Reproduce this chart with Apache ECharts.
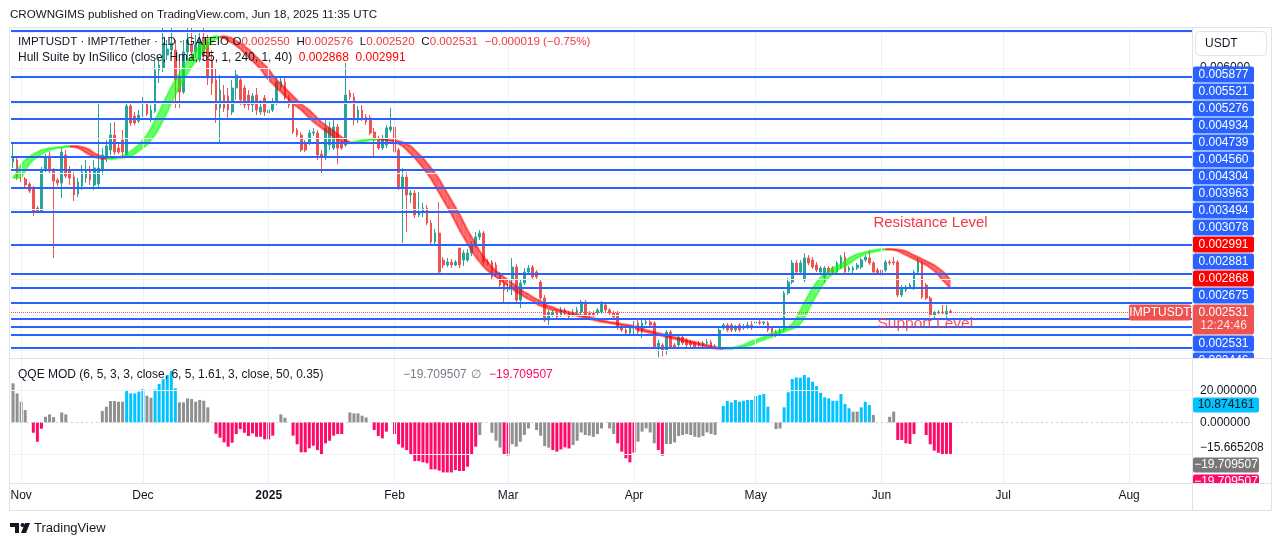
<!DOCTYPE html>
<html>
<head>
<meta charset="utf-8">
<script src="https://cdn.jsdelivr.net/npm/echarts@6.0.0/dist/echarts.min.js"></script>
<style>
html,body{margin:0;padding:0;background:#fff;}
#chart{width:1281px;height:546px;}
</style>
</head>
<body>
<div id="chart"></div>
<script>
var FONT = "'Liberation Sans', Arial, sans-serif";
var TXT = '#131722';

// daily candles, 2024-10-30 .. 2025-06-18
var opens = [0.004666,0.004694,0.004467,0.004425,0.004354,0.004297,0.004013,0.003971,0.004552,0.004751,
 0.004538,0.004411,0.004368,0.004765,0.004552,0.004453,0.004212,0.004325,0.004439,0.004538,
 0.004340,0.004354,0.004552,0.004723,0.004836,0.005049,0.004864,0.004978,0.004765,0.005460,
 0.005318,0.005247,0.005332,0.005488,0.005290,0.005389,0.005970,0.005999,0.006183,0.006254,
 0.006254,0.005857,0.005658,0.006226,0.006325,0.006226,0.006112,0.006424,0.006367,0.006112,
 0.005829,0.005432,0.005616,0.005602,0.005375,0.005715,0.005829,0.005715,0.005616,0.005474,
 0.005616,0.005375,0.005573,0.005361,0.005403,0.005503,0.005729,0.005800,0.005573,0.005474,
 0.005120,0.005049,0.004935,0.004949,0.005077,0.005077,0.004779,0.004737,0.004907,0.004864,
 0.005162,0.004935,0.004907,0.005644,0.005588,0.005261,0.005403,0.005304,0.005290,0.005091,
 0.004978,0.004864,0.004907,0.005120,0.005162,0.004836,0.004311,0.004453,0.004198,0.004226,
 0.003914,0.003957,0.004013,0.003801,0.003531,0.003659,0.003276,0.003205,0.003248,0.003205,
 0.003446,0.003276,0.003276,0.003375,0.003489,0.003602,0.003659,0.003248,0.003248,0.003205,
 0.003064,0.002950,0.002851,0.002993,0.003177,0.002709,0.002950,0.003106,0.003177,0.003106,
 0.002964,0.002737,0.002425,0.002496,0.002539,0.002496,0.002567,0.002525,0.002496,0.002539,
 0.002539,0.002681,0.002525,0.002525,0.002525,0.002539,0.002638,0.002567,0.002525,0.002525,
 0.002326,0.002284,0.002241,0.002241,0.002383,0.002255,0.002383,0.002397,0.002383,0.002043,
 0.002071,0.002000,0.002255,0.002071,0.002071,0.002184,0.002142,0.002113,0.002099,0.002099,
 0.002071,0.002099,0.002113,0.002057,0.002043,0.002312,0.002355,0.002355,0.002284,0.002355,
 0.002312,0.002326,0.002355,0.002383,0.002397,0.002383,0.002383,0.002312,0.002255,0.002241,
 0.002284,0.002808,0.002964,0.003234,0.003106,0.002993,0.003305,0.003276,0.003205,0.003106,
 0.003035,0.003163,0.003163,0.003106,0.003177,0.003319,0.003134,0.003134,0.003163,0.003177,
 0.003276,0.003305,0.003234,0.003134,0.003134,0.003134,0.003248,0.003248,0.003248,0.002780,
 0.002851,0.002893,0.002879,0.003106,0.003234,0.002922,0.002737,0.002496,0.002525,0.002539,
 0.002511,0.002550];

var closes = [0.004723,0.004453,0.004411,0.004340,0.004255,0.003971,0.003971,0.004552,0.004723,0.004538,
 0.004396,0.004368,0.004808,0.004467,0.004439,0.004198,0.004382,0.004524,0.004552,0.004411,
 0.004581,0.004581,0.004765,0.004893,0.005049,0.004808,0.004808,0.004808,0.005460,0.005219,
 0.005219,0.005332,0.005488,0.005347,0.005403,0.005970,0.006041,0.006353,0.006268,0.006353,
 0.005829,0.005658,0.006226,0.006396,0.006226,0.006325,0.006396,0.006183,0.005857,0.005786,
 0.005403,0.005687,0.005432,0.005403,0.005715,0.005900,0.005545,0.005474,0.005474,0.005602,
 0.005403,0.005446,0.005375,0.005403,0.005517,0.005800,0.005814,0.005573,0.005474,0.005091,
 0.005049,0.004836,0.004836,0.005077,0.005091,0.004765,0.004751,0.005148,0.005148,0.005162,
 0.004864,0.004864,0.005616,0.005588,0.005261,0.005403,0.005290,0.005233,0.005077,0.004978,
 0.004864,0.005006,0.005148,0.005162,0.004808,0.004311,0.004453,0.004198,0.004226,0.003914,
 0.003957,0.004013,0.003801,0.003531,0.003659,0.003106,0.003205,0.003248,0.003205,0.003248,
 0.003205,0.003375,0.003375,0.003489,0.003602,0.003659,0.003248,0.003234,0.003035,0.003064,
 0.002922,0.002851,0.002893,0.003177,0.002709,0.002950,0.003106,0.003163,0.003035,0.003035,
 0.002737,0.002425,0.002525,0.002525,0.002468,0.002567,0.002525,0.002468,0.002539,0.002567,
 0.002681,0.002496,0.002496,0.002496,0.002567,0.002666,0.002567,0.002525,0.002468,0.002326,
 0.002284,0.002241,0.002312,0.002355,0.002255,0.002383,0.002397,0.002355,0.002043,0.002099,
 0.002000,0.002255,0.002043,0.002043,0.002184,0.002099,0.002071,0.002071,0.002043,0.002071,
 0.002099,0.002113,0.002043,0.002043,0.002284,0.002355,0.002284,0.002284,0.002326,0.002284,
 0.002326,0.002355,0.002312,0.002397,0.002383,0.002397,0.002284,0.002255,0.002213,0.002284,
 0.002808,0.002964,0.003234,0.003106,0.003234,0.003305,0.003234,0.003177,0.003134,0.003163,
 0.003163,0.003106,0.003106,0.003234,0.003319,0.003106,0.003163,0.003163,0.003205,0.003276,
 0.003319,0.003234,0.003106,0.003092,0.003064,0.003248,0.003234,0.003234,0.002780,0.002879,
 0.002893,0.002922,0.003106,0.003248,0.002752,0.002737,0.002496,0.002525,0.002539,0.002525,
 0.002550,0.002531];

var lows = [0.004581,0.004411,0.004382,0.004311,0.004226,0.003900,0.003957,0.003957,0.004524,0.004496,
 0.003305,0.004325,0.004155,0.004439,0.004340,0.004113,0.004169,0.004269,0.004368,0.004340,
 0.004269,0.004297,0.004481,0.004666,0.004765,0.004765,0.004779,0.004751,0.004751,0.005176,
 0.005191,0.005219,0.005304,0.005318,0.005233,0.005361,0.005786,0.005942,0.006112,0.006197,
 0.005432,0.005432,0.005630,0.006112,0.006112,0.006141,0.006084,0.006112,0.005758,0.005616,
 0.005219,0.004935,0.005375,0.005290,0.005332,0.005545,0.005474,0.005432,0.005403,0.005375,
 0.005332,0.005332,0.005318,0.005332,0.005375,0.005474,0.005687,0.005545,0.005432,0.005063,
 0.005020,0.004808,0.004808,0.004907,0.005035,0.004694,0.004510,0.004694,0.004836,0.004836,
 0.004637,0.004836,0.004879,0.005545,0.005191,0.005219,0.005247,0.005191,0.005049,0.004737,
 0.004836,0.004836,0.004864,0.005091,0.004765,0.004269,0.003517,0.003673,0.004084,0.003872,
 0.003886,0.003886,0.003772,0.003489,0.003489,0.003064,0.003163,0.003177,0.003163,0.003191,
 0.003163,0.003191,0.003248,0.003333,0.003446,0.003560,0.003205,0.003191,0.002993,0.003035,
 0.002879,0.002666,0.002822,0.002780,0.002666,0.002596,0.002922,0.003078,0.003007,0.003007,
 0.002709,0.002397,0.002355,0.002468,0.002440,0.002468,0.002496,0.002454,0.002468,0.002511,
 0.002511,0.002468,0.002468,0.002468,0.002496,0.002511,0.002539,0.002496,0.002425,0.002284,
 0.002255,0.002213,0.002213,0.002213,0.002227,0.002170,0.002355,0.002326,0.002014,0.001895,
 0.001915,0.001929,0.002014,0.002014,0.002028,0.002071,0.002043,0.002043,0.002028,0.002043,
 0.002043,0.002071,0.002028,0.002028,0.002028,0.002284,0.002255,0.002255,0.002255,0.002255,
 0.002284,0.002298,0.002284,0.002355,0.002355,0.002355,0.002255,0.002227,0.002184,0.002213,
 0.002255,0.002780,0.002936,0.003078,0.003078,0.002964,0.003205,0.003149,0.003106,0.003078,
 0.002950,0.003078,0.003078,0.003078,0.003149,0.003078,0.003106,0.003064,0.003134,0.003149,
 0.003248,0.003205,0.003078,0.003064,0.003035,0.003106,0.003205,0.003205,0.002752,0.002752,
 0.002822,0.002865,0.002851,0.003078,0.002723,0.002709,0.002468,0.002454,0.002511,0.002511,
 0.002454,0.002520];

var highs = [0.004935,0.004737,0.004496,0.004453,0.004382,0.004325,0.004042,0.004595,0.004779,0.004822,
 0.004581,0.004439,0.004864,0.004836,0.004609,0.004524,0.004439,0.004623,0.004694,0.004609,
 0.004694,0.005503,0.004864,0.004978,0.005219,0.005233,0.004935,0.005120,0.005488,0.005488,
 0.005375,0.005403,0.005588,0.005531,0.005474,0.006098,0.006141,0.006566,0.006396,0.006566,
 0.006396,0.006112,0.006396,0.006566,0.006566,0.006467,0.006538,0.006566,0.006467,0.006254,
 0.005999,0.005900,0.005758,0.005715,0.005829,0.005970,0.005857,0.005758,0.005687,0.005644,
 0.005715,0.005545,0.005616,0.005488,0.005573,0.005857,0.005885,0.005857,0.005616,0.005517,
 0.005148,0.005091,0.004978,0.005120,0.005148,0.005120,0.004836,0.005261,0.005233,0.005261,
 0.005205,0.004978,0.006070,0.005687,0.005644,0.005460,0.005474,0.005347,0.005332,0.005148,
 0.005035,0.005049,0.005191,0.005432,0.005205,0.004864,0.004581,0.004524,0.004269,0.004269,
 0.004240,0.004084,0.004056,0.003843,0.003716,0.004099,0.003319,0.003305,0.003290,0.003276,
 0.003446,0.003418,0.003432,0.003546,0.003673,0.003702,0.003687,0.003290,0.003276,0.003248,
 0.003106,0.002993,0.002936,0.003305,0.003219,0.002993,0.003163,0.003205,0.003205,0.003134,
 0.003007,0.002780,0.002567,0.002567,0.002567,0.002610,0.002596,0.002553,0.002581,0.002610,
 0.002709,0.002709,0.002553,0.002553,0.002596,0.002695,0.002666,0.002596,0.002553,0.002553,
 0.002355,0.002312,0.002340,0.002411,0.002425,0.002425,0.002425,0.002425,0.002411,0.002142,
 0.002099,0.002284,0.002284,0.002099,0.002213,0.002213,0.002170,0.002142,0.002128,0.002128,
 0.002128,0.002156,0.002142,0.002085,0.002312,0.002383,0.002383,0.002383,0.002355,0.002383,
 0.002369,0.002397,0.002411,0.002425,0.002425,0.002411,0.002411,0.002340,0.002284,0.002312,
 0.002837,0.003021,0.003276,0.003276,0.003276,0.003375,0.003347,0.003319,0.003248,0.003191,
 0.003191,0.003191,0.003191,0.003262,0.003347,0.003390,0.003191,0.003191,0.003234,0.003305,
 0.003347,0.003418,0.003262,0.003163,0.003163,0.003276,0.003276,0.003319,0.003276,0.002922,
 0.002922,0.002950,0.003134,0.003305,0.003262,0.002950,0.002766,0.002553,0.002567,0.002638,
 0.002638,0.002576];

// Hull Suite main line (HULL); the band is HULL vs HULL two bars back
var hull = [0.004439,0.004538,0.004637,0.004694,0.004737,0.004779,0.004808,0.004836,0.004850,0.004864,
 0.004864,0.004879,0.004879,0.004893,0.004893,0.004879,0.004864,0.004836,0.004793,0.004765,
 0.004737,0.004723,0.004708,0.004708,0.004723,0.004723,0.004737,0.004751,0.004779,0.004822,
 0.004864,0.004907,0.004978,0.005049,0.005148,0.005261,0.005375,0.005503,0.005616,0.005729,
 0.005829,0.005928,0.006013,0.006098,0.006169,0.006240,0.006311,0.006367,0.006410,0.006438,
 0.006453,0.006438,0.006424,0.006382,0.006353,0.006311,0.006268,0.006211,0.006155,0.006098,
 0.006041,0.005985,0.005900,0.005829,0.005772,0.005715,0.005658,0.005602,0.005545,0.005488,
 0.005446,0.005403,0.005347,0.005290,0.005233,0.005191,0.005148,0.005105,0.005063,0.005020,
 0.004978,0.004949,0.004928,0.004935,0.004949,0.004964,0.004978,0.004978,0.004992,0.004992,
 0.004992,0.004978,0.004978,0.004964,0.004949,0.004921,0.004893,0.004836,0.004779,0.004723,
 0.004652,0.004581,0.004510,0.004425,0.004325,0.004226,0.004127,0.004028,0.003928,0.003815,
 0.003702,0.003602,0.003503,0.003404,0.003319,0.003248,0.003177,0.003120,0.003078,0.003035,
 0.002993,0.002950,0.002908,0.002865,0.002822,0.002794,0.002752,0.002723,0.002695,0.002652,
 0.002624,0.002610,0.002581,0.002567,0.002553,0.002539,0.002525,0.002511,0.002496,0.002482,
 0.002468,0.002454,0.002440,0.002425,0.002411,0.002397,0.002390,0.002383,0.002369,0.002362,
 0.002355,0.002340,0.002326,0.002312,0.002284,0.002269,0.002255,0.002241,0.002227,0.002213,
 0.002199,0.002184,0.002170,0.002156,0.002142,0.002128,0.002113,0.002099,0.002085,0.002071,
 0.002057,0.002043,0.002028,0.002021,0.002014,0.002014,0.002028,0.002028,0.002043,0.002057,
 0.002071,0.002099,0.002128,0.002142,0.002170,0.002184,0.002213,0.002241,0.002255,0.002284,
 0.002298,0.002326,0.002369,0.002454,0.002567,0.002681,0.002780,0.002879,0.002964,0.003035,
 0.003078,0.003120,0.003163,0.003191,0.003219,0.003262,0.003305,0.003333,0.003361,0.003375,
 0.003390,0.003404,0.003418,0.003425,0.003432,0.003428,0.003425,0.003418,0.003404,0.003375,
 0.003347,0.003319,0.003290,0.003262,0.003234,0.003205,0.003163,0.003120,0.003064,0.002991,
 0.002936,0.002868];

// QQE MOD histogram and its colour state (u = above, d = below, n = neutral)
var qqeHist = [24.4,18.1,12.9,7.7,0,-6.5,-12.1,-4.0,3.5,5.0,
 3.3,0,6.2,5.0,0,0,0,0,0,0,
 0,0,7.1,9.8,13.3,13.3,12.9,12.9,19.8,18.1,
 18.1,19.2,20.8,16.7,15.4,20.5,24.0,27.0,29.6,32.1,
 21.3,12.5,12.5,15.0,14.6,12.9,14.0,13.5,9.4,0,
 -7.1,-9.6,-12.5,-15.2,-12.7,-7.3,-4.2,-6.5,-8.5,-6.9,
 -9.0,-9.0,-10.6,-10.6,-8.3,0,5.0,2.9,0,-8.3,
 -13.7,-18.7,-18.7,-16.2,-14.6,-17.3,-20.0,-13.1,-11.5,-8.3,
 -7.3,-7.3,0,6.2,5.6,5.6,4.2,3.1,0,-4.8,
 -8.5,-10.0,-5.8,0,-7.3,-13.7,-15.8,-17.3,-19.8,-24.2,
 -24.2,-25.0,-25.6,-29.4,-29.4,-30.2,-31.3,-31.3,-31.3,-29.8,
 -30.4,-30.4,-27.7,-20.4,-15.2,-7.9,0,0,-6.5,-11.5,
 -15.8,-19.8,-20.8,-13.7,-15.2,-12.1,-7.9,-3.8,0,-4.8,
 -8.3,-14.8,-15.8,-17.3,-18.3,-16.9,-15.6,-16.3,-14.2,-11.5,
 -6.3,-7.9,-8.3,-9.0,-7.3,-3.8,0,-3.8,-7.3,-13.1,
 -18.3,-22.5,-25.0,-19.0,-12.1,-5.8,-3.8,-6.3,-13.1,-17.3,
 -20.8,-13.5,-13.5,-12.5,-8.5,-7.9,-7.3,-7.9,-9.0,-9.4,
 -8.5,-6.3,-7.3,-7.9,0,10.2,13.3,12.5,14.0,12.9,
 13.5,14.0,14.0,16.5,17.1,17.7,9.8,0,-4.2,-3.8,
 9.4,18.8,27.1,28.1,27.9,29.6,28.1,25.4,22.7,18.5,
 15.6,15.0,13.5,13.5,17.7,11.5,8.8,6.7,6.7,9.4,
 12.9,10.8,4.6,0,0,0,3.5,6.7,-11.0,-11.0,
 -13.1,-13.5,-7.3,0,0,-7.9,-13.7,-17.7,-19.0,-20.0,
 -20.0,-19.709507];
var qqeState = ('nnnnn' + 'ddd' + 'nnnnnn' + 'nnnnnnnn' + 'nnnnnn' + 'uuuuu' + 'nn' + 'uuuuuu' +
 'nnnnnnnnn' + 'ddddddddddddddd' + 'nnnn' + 'ddddddddddddd' + 'nnnnnnn' + 'dddd' + 'n' +
 'ddddddddddddddddddddd' + 'nnnnnn' + 'dd' + 'nnnnnnnnnn' + 'ddddd' + 'nnnnnnnnnnn' + 'ddddd' +
 'nnnnn' + 'dd' + 'nnnnnnnnnnnnnn' + 'uuuuuuuuuuuu' + 'nnn' + 'uuuuuuuuuuuuuuuuu' + 'nn' + 'uuu' +
 'nnnnnn' + 'ddddd' + 'nn' + 'ddddddd').split('');
var qqeTagCyan = 10.874161;
var qqeAxisValues = [20, 0, -15.665208];

// horizontal levels drawn on the chart and their axis tags
var lineLevels = [0.006524,0.005877,0.005521,0.005276,0.004934,0.004739,0.004560,0.004304,0.003963,
 0.003494,0.003078,0.002881,0.002675,0.002446,0.002326,0.002213,0.002028];
var levelTags = [0.005877,0.005521,0.005276,0.004934,0.004739,0.004560,0.004304,0.003963,0.003494,
 0.003078,0.002881,0.002675,0.002531,0.002446,0.002326,0.002213,0.002028];
var priceGrid = [0.002,0.0025,0.003,0.0035,0.004,0.0045,0.005,0.0055,0.006,0.0065];

var monthTicks = ['2024-11-01','2024-12-01','2025-01-01','2025-02-01','2025-03-01','2025-04-01',
 '2025-05-01','2025-06-01','2025-07-01','2025-08-01'];
var monthLabels = ['Nov','Dec','2025','Feb','Mar','Apr','May','Jun','Jul','Aug'];

var dates = [];
var t0 = Date.UTC(2024, 9, 30);
for (var k = 0; k < 291; k++) {
  dates.push(new Date(t0 + k * 864e5).toISOString().slice(0, 10));
}

var candleData = [];
for (var i = 0; i < opens.length; i++) {
  candleData.push([opens[i], closes[i], lows[i], highs[i]]);
}
var stateColor = {u: '#00c3ff', d: '#ff0a68', n: '#909090'};
var histData = qqeHist.map(function(v, i){
  return {value: v, itemStyle: {color: stateColor[qqeState[i]]}};
});

var last = closes.length - 1;
function minus(s){ return s.replace(/-/g, '\u2212'); }

function lineMarks(list, color, width, type, z, xi, yi){
  return {type: 'line', xAxisIndex: xi, yAxisIndex: yi, data: [], z: z, silent: true,
    markLine: {silent: true, symbol: ['none', 'none'], animation: false, precision: 8,
      label: {show: false}, lineStyle: {color: color, width: width, type: type}, data: list}};
}

var chart = echarts.init(document.getElementById('chart'));

var option = {
  animation: false,
  backgroundColor: '#ffffff',
  grid: [
    {left: 11, top: 28, width: 1181, height: 330},
    {left: 11, top: 359, width: 1181, height: 124}
  ],
  xAxis: [
    {gridIndex: 0, type: 'category', data: dates, boundaryGap: true,
     axisLine: {show: false}, axisTick: {show: false}, axisLabel: {show: false}, splitLine: {show: false}},
    {gridIndex: 1, type: 'category', data: dates, boundaryGap: true,
     axisLine: {show: false}, axisTick: {show: false}, splitLine: {show: false},
     axisLabel: {
       interval: function(idx, val){ return monthTicks.indexOf(val) >= 0; },
       formatter: function(val){
         var m = monthTicks.indexOf(val);
         return m === 2 ? '{b|' + monthLabels[m] + '}' : monthLabels[m];
       },
       color: TXT, fontSize: 12, fontFamily: FONT, margin: 7,
       rich: {b: {fontWeight: 'bold', fontSize: 12, fontFamily: FONT, color: TXT}}
     }}
  ],
  yAxis: [
    {gridIndex: 0, type: 'value', position: 'right', min: 0.001887, max: 0.006566,
     splitLine: {show: false}, axisLine: {show: false}, axisTick: {show: false},
     axisLabel: {customValues: [0.006], formatter: function(v){ return v.toFixed(6); },
       color: TXT, fontSize: 12, fontFamily: FONT, margin: 8}},
    {gridIndex: 1, type: 'value', position: 'right', min: -37.9, max: 39.6,
     splitLine: {show: false}, axisLine: {show: false}, axisTick: {show: false},
     axisLabel: {customValues: qqeAxisValues, formatter: function(v){ return minus(v.toFixed(6)); },
       color: TXT, fontSize: 12, fontFamily: FONT, margin: 8}}
  ],
  series: [
    lineMarks(monthTicks.map(function(d){ return {xAxis: d}; })
      .concat(priceGrid.map(function(v){ return {yAxis: v}; })), '#eef1f6', 1, 'solid', 1, 0, 0),
    lineMarks(monthTicks.map(function(d){ return {xAxis: d}; })
      .concat([{yAxis: 20}, {yAxis: -20}]), '#eef1f6', 1, 'solid', 1, 1, 1),
    lineMarks([{yAxis: 0}], '#c9ccd4', 1, [2, 3], 1, 1, 1),
    {type: 'candlestick', xAxisIndex: 0, yAxisIndex: 0, data: candleData, z: 3,
     barWidth: 2.2, silent: true, clip: false,
     itemStyle: {color: '#26a69a', color0: '#ef5350', borderColor: '#26a69a', borderColor0: '#ef5350', borderWidth: 1}},
    {type: 'custom', xAxisIndex: 0, yAxisIndex: 0, z: 4, silent: true,
     data: hull.map(function(v, i){ return [i, v]; }),
     renderItem: function(params, api){
       var n = params.dataIndex;
       if (n === 0) return;
       var h0 = hull[n - 1], h1 = hull[n];
       var s0 = hull[Math.max(n - 3, 0)], s1 = hull[Math.max(n - 2, 0)];
       var col = h1 >= s1 ? '0,255,0' : '255,0,0';
       var a = api.coord([n - 1, h0]), b = api.coord([n, h1]);
       var c = api.coord([n, s1]), d = api.coord([n - 1, s0]);
       return {type: 'group', children: [
         {type: 'polygon', shape: {points: [a, b, c, d]}, style: {fill: 'rgba(' + col + ',0.6)'}},
         {type: 'line', shape: {x1: a[0], y1: a[1], x2: b[0], y2: b[1]}, style: {stroke: 'rgba(' + col + ',0.5)', lineWidth: 2}},
         {type: 'line', shape: {x1: d[0], y1: d[1], x2: c[0], y2: c[1]}, style: {stroke: 'rgba(' + col + ',0.5)', lineWidth: 2}}
       ]};
     }},
    lineMarks(lineLevels.map(function(v){ return {yAxis: v}; }), '#2962ff', 2, 'solid', 6, 0, 0),
    lineMarks([{yAxis: closes[last]}], '#ef5350', 1, 'dotted', 7, 0, 0),
    {type: 'bar', xAxisIndex: 1, yAxisIndex: 1, data: histData, barWidth: 3, z: 3, silent: true}
  ]
};
chart.setOption(option);

// ---------- overlay: legends, axis tags, frame ----------
var g = [];
function text(x, y, s, fill, font, align, z){
  g.push({type: 'text', x: x, y: y, z: z || 100, silent: true,
    style: {text: s, fill: fill, font: font, textAlign: align || 'left', align: align || 'left',
      textVerticalAlign: 'middle', verticalAlign: 'middle'}});
}
function box(x, y, w, h, fill, z, stroke){
  g.push({type: 'rect', z: z || 100, silent: true, shape: {x: x, y: y, width: w, height: h, r: 2},
    style: {fill: fill, stroke: stroke || null, lineWidth: 1}});
}
function hline(y, x1, x2, z){
  g.push({type: 'line', z: z || 120, silent: true, shape: {x1: x1, y1: y, x2: x2, y2: y}, style: {stroke: '#e0e3eb', lineWidth: 1}});
}
function vline(x, y1, y2, z){
  g.push({type: 'line', z: z || 120, silent: true, shape: {x1: x, y1: y1, x2: x, y2: y2}, style: {stroke: '#e0e3eb', lineWidth: 1}});
}

text(10, 15, 'CROWNGIMS published on TradingView.com, Jun 18, 2025 11:35 UTC', TXT, '11.6px ' + FONT);

var chg = closes[last] - closes[last - 1];
var pct = chg / closes[last - 1] * 100;
g.push({type: 'text', x: 18, y: 42, z: 100, silent: true, style: {
  text: '{k|IMPTUSDT \u00b7 IMPT/Tether \u00b7 1D \u00b7 GATEIO} {k|O}{r|' + opens[last].toFixed(6) + '}  {k|H}{r|' + highs[last].toFixed(6) +
    '}  {k|L}{r|' + lows[last].toFixed(6) + '}  {k|C}{r|' + closes[last].toFixed(6) + '}  {r|' +
    minus(chg.toFixed(6)) + ' (' + minus(pct.toFixed(2)) + '%)}',
  textVerticalAlign: 'middle', verticalAlign: 'middle',
  rich: {k: {fill: TXT, font: '11.6px ' + FONT}, r: {fill: '#f23645', font: '11.6px ' + FONT}}}});
g.push({type: 'text', x: 18, y: 58, z: 100, silent: true, style: {
  text: '{k|Hull Suite by InSilico (close, Hma, 55, 1, 240, 1, 40)}  {r|' + hull[last].toFixed(6) + '}  {r|' + hull[last - 2].toFixed(6) + '}',
  textVerticalAlign: 'middle', verticalAlign: 'middle',
  rich: {k: {fill: TXT, font: '12px ' + FONT}, r: {fill: '#ff0000', font: '12px ' + FONT}}}});

text(18, 375, 'QQE MOD (6, 5, 3, 3, close, 6, 5, 1.61, 3, close, 50, 0.35)', TXT, '12px ' + FONT);
text(403, 375, minus(qqeHist[last].toFixed(6)), '#787b86', '12px ' + FONT);
text(471, 375, '\u2205', '#787b86', '12px ' + FONT);
text(489, 375, minus(qqeHist[last].toFixed(6)), '#ff0a68', '12px ' + FONT);

// annotations
var rp = chart.convertToPixel({gridIndex: 0}, [dates[212], 0.003801]);
text(rp[0], rp[1], 'Resistance Level', '#f23645', '15px ' + FONT, 'left', 90);
var sp = chart.convertToPixel({gridIndex: 0}, [dates[213], 0.002369]);
g.push({type: 'text', x: sp[0], y: sp[1], z: 90, silent: true, style: {text: 'Support Level', fill: '#f23645', opacity: 0.85,
  font: '15.5px ' + FONT, textVerticalAlign: 'middle', verticalAlign: 'middle'}});

// main price axis tags, clustered like the platform does
function yMain(v){ return chart.convertToPixel({yAxisIndex: 0}, v); }
var paneBottom = yMain(0.001887);
var tags = [];
tags.push({v: closes[last], h: 31, kind: 'cur'});
levelTags.forEach(function(v){ tags.push({v: v, h: 17, kind: 'blue'}); });
tags.push({v: hull[last - 2], h: 17, kind: 'red'});
tags.push({v: hull[last], h: 17, kind: 'red'});
tags.forEach(function(t){ t.y = yMain(t.v); });
tags.sort(function(a, b){ return a.y - b.y; });

function place(grp){
  var rel = 0, sum = 0;
  grp.items.forEach(function(it){ sum += it.y - (rel + (it.h - 1) / 2); rel += it.h; });
  grp.top = sum / grp.items.length; grp.h = rel;
}
var groups = tags.map(function(t){ var gr = {items: [t]}; place(gr); return gr; });
var merged = true;
while (merged) {
  merged = false;
  for (var q = 0; q < groups.length - 1; q++) {
    if (groups[q].top + groups[q].h > groups[q + 1].top) {
      var ng = {items: groups[q].items.concat(groups[q + 1].items)};
      place(ng);
      groups.splice(q, 2, ng);
      merged = true;
      break;
    }
  }
}
groups.forEach(function(gr){
  var tp = gr.top;
  gr.items.forEach(function(it){ it.top = tp; tp += it.h; });
});
tags.forEach(function(t){
  if (t.top >= paneBottom) return;
  var col = t.kind === 'blue' ? '#2962ff' : (t.kind === 'red' ? '#ff0000' : '#ef5350');
  box(1193, t.top, 61, t.h - 1, col, 100);
  text(1223.5, t.top + 8, t.v.toFixed(6), '#ffffff', '12px ' + FONT, 'center', 101);
  if (t.kind === 'cur') {
    text(1223.5, t.top + 21, '12:24:46', 'rgba(255,255,255,0.85)', '12px ' + FONT, 'center', 101);
    box(1129, t.top, 62, 16, col, 100);
    text(1160, t.top + 8, 'IMPTUSDT', '#ffffff', '12px ' + FONT, 'center', 101);
  }
});

// lower pane tags
function yLow(v){ return chart.convertToPixel({yAxisIndex: 1}, v); }
var cy = yLow(qqeTagCyan);
box(1193, cy - 7.5, 66, 15, '#00c3ff', 100);
text(1226, cy, qqeTagCyan.toFixed(6), TXT, '12px ' + FONT, 'center', 101);
var prevBottom = yLow(qqeAxisValues[2]) + 8;
['#787878', '#ff0a68'].forEach(function(c){
  var top = Math.max(yLow(qqeHist[last]) - 7.5, prevBottom + 2);
  box(1193, top, 66, 15, c, 100);
  text(1226, top + 7.5, minus(qqeHist[last].toFixed(6)), '#ffffff', '12px ' + FONT, 'center', 101);
  prevBottom = top + 15;
});

// covers so tags stay inside their panes
g.push({type: 'rect', z: 110, silent: true, shape: {x: 1192.5, y: 358.5, width: 78.5, height: 22}, style: {fill: '#ffffff'}});
g.push({type: 'rect', z: 110, silent: true, shape: {x: 1192.5, y: 483.5, width: 78.5, height: 27}, style: {fill: '#ffffff'}});

// USDT box
g.push({type: 'rect', z: 110, silent: true, shape: {x: 1195.5, y: 31.5, width: 71, height: 24, r: 4},
  style: {fill: '#ffffff', stroke: '#e0e3eb', lineWidth: 1}});
text(1205, 44, 'USDT', TXT, '12px ' + FONT, 'left', 111);

// frame
hline(27.5, 9.5, 1271.5);
hline(358.5, 9.5, 1271.5);
hline(483.5, 9.5, 1271.5);
hline(510.5, 9.5, 1271.5);
vline(9.5, 27.5, 510.5);
vline(1192.5, 27.5, 510.5);
vline(1271.5, 27.5, 510.5);

// TradingView mark
g.push({type: 'polygon', z: 100, silent: true, shape: {points: [[10, 523], [19, 523], [19, 533], [15, 533], [15, 527], [10, 527]]}, style: {fill: TXT}});
g.push({type: 'circle', z: 100, silent: true, shape: {cx: 22.5, cy: 525, r: 2}, style: {fill: TXT}});
g.push({type: 'polygon', z: 100, silent: true, shape: {points: [[25, 523], [30, 523], [26, 533], [21, 533]]}, style: {fill: TXT}});
text(34, 528, 'TradingView', TXT, '13px ' + FONT);

chart.setOption({graphic: g});
</script>
</body>
</html>
